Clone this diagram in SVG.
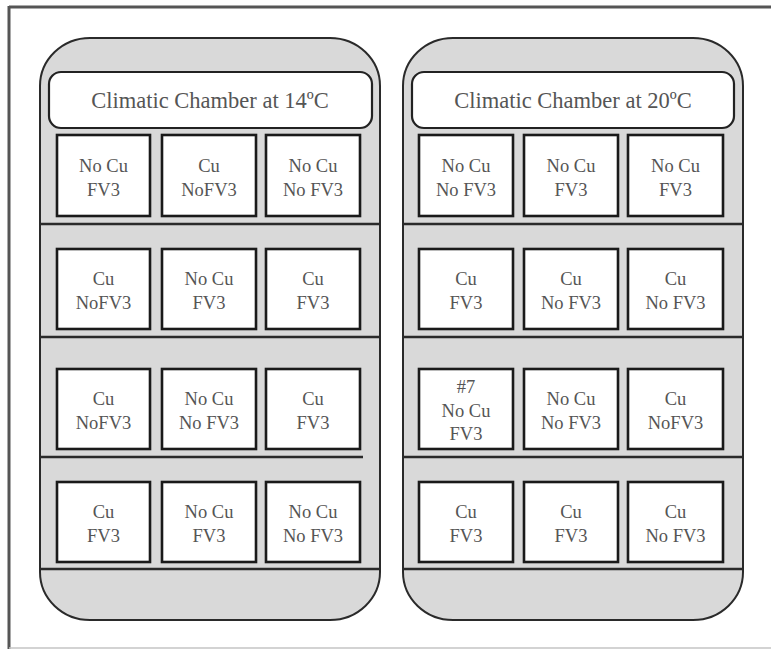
<svg xmlns="http://www.w3.org/2000/svg" width="771" height="649" viewBox="0 0 771 649">
<style>
.chamber{fill:#d9d9d9;stroke:#2a2a2a;stroke-width:2}
.shelf{stroke:#2a2a2a;stroke-width:2.5;fill:none}
.hdr{fill:#fff;stroke:#222;stroke-width:2.2}
.box{fill:#fff;stroke:#1a1a1a;stroke-width:2.6}
.t{font-family:'Liberation Serif','DejaVu Serif','Times New Roman',serif;fill:#555;text-anchor:middle}
.tt{font-size:22.5px}
.bt{font-size:18.5px}
</style>
<rect x="0" y="0" width="771" height="649" fill="#fff"/>
<g id="frame">
<line x1="9" y1="7" x2="771" y2="7" stroke="#555" stroke-width="3"/>
<line x1="9" y1="6" x2="9" y2="649" stroke="#555" stroke-width="3"/>
<line x1="9" y1="648" x2="771" y2="648" stroke="#c4c4c4" stroke-width="1.5"/>
</g>
<g id="chamber14">
<rect class="chamber" x="40" y="38" width="340" height="582" rx="50" ry="48"/>
<line class="shelf" x1="40" y1="224" x2="380" y2="224"/>
<line class="shelf" x1="40" y1="337" x2="380" y2="337"/>
<line class="shelf" x1="40" y1="457" x2="363" y2="457"/>
<line class="shelf" x1="40" y1="569" x2="380" y2="569"/>
<rect class="hdr" x="49" y="72" width="323" height="56" rx="12"/>
<text class="t tt" x="210" y="108">Climatic Chamber at 14ºC</text>
</g>
<g id="chamber20">
<rect class="chamber" x="403" y="38" width="340" height="582" rx="50" ry="48"/>
<line class="shelf" x1="403" y1="224" x2="743" y2="224"/>
<line class="shelf" x1="403" y1="337" x2="743" y2="337"/>
<line class="shelf" x1="403" y1="457" x2="743" y2="457"/>
<line class="shelf" x1="403" y1="569" x2="743" y2="569"/>
<rect class="hdr" x="412" y="72" width="322" height="56" rx="12"/>
<text class="t tt" x="573" y="108">Climatic Chamber at 20ºC</text>
</g>
<g id="L11"><rect class="box" x="57" y="135" width="93" height="81"/><text class="t bt" x="103.5" y="172">No Cu</text><text class="t bt" x="103.5" y="196">FV3</text></g>
<g id="L12"><rect class="box" x="162" y="135" width="94" height="81"/><text class="t bt" x="209" y="172">Cu</text><text class="t bt" x="209" y="196">NoFV3</text></g>
<g id="L13"><rect class="box" x="266" y="135" width="94" height="81"/><text class="t bt" x="313" y="172">No Cu</text><text class="t bt" x="313" y="196">No FV3</text></g>
<g id="L21"><rect class="box" x="57" y="249" width="93" height="80"/><text class="t bt" x="103.5" y="285">Cu</text><text class="t bt" x="103.5" y="309">NoFV3</text></g>
<g id="L22"><rect class="box" x="162" y="249" width="94" height="80"/><text class="t bt" x="209" y="285">No Cu</text><text class="t bt" x="209" y="309">FV3</text></g>
<g id="L23"><rect class="box" x="266" y="249" width="94" height="80"/><text class="t bt" x="313" y="285">Cu</text><text class="t bt" x="313" y="309">FV3</text></g>
<g id="L31"><rect class="box" x="57" y="369" width="93" height="80"/><text class="t bt" x="103.5" y="405">Cu</text><text class="t bt" x="103.5" y="429">NoFV3</text></g>
<g id="L32"><rect class="box" x="162" y="369" width="94" height="80"/><text class="t bt" x="209" y="405">No Cu</text><text class="t bt" x="209" y="429">No FV3</text></g>
<g id="L33"><rect class="box" x="266" y="369" width="94" height="80"/><text class="t bt" x="313" y="405">Cu</text><text class="t bt" x="313" y="429">FV3</text></g>
<g id="L41"><rect class="box" x="57" y="482" width="93" height="80"/><text class="t bt" x="103.5" y="518">Cu</text><text class="t bt" x="103.5" y="542">FV3</text></g>
<g id="L42"><rect class="box" x="162" y="482" width="94" height="80"/><text class="t bt" x="209" y="518">No Cu</text><text class="t bt" x="209" y="542">FV3</text></g>
<g id="L43"><rect class="box" x="266" y="482" width="94" height="80"/><text class="t bt" x="313" y="518">No Cu</text><text class="t bt" x="313" y="542">No FV3</text></g>
<g id="R11"><rect class="box" x="419" y="135" width="94" height="81"/><text class="t bt" x="466" y="172">No Cu</text><text class="t bt" x="466" y="196">No FV3</text></g>
<g id="R12"><rect class="box" x="524" y="135" width="94" height="81"/><text class="t bt" x="571" y="172">No Cu</text><text class="t bt" x="571" y="196">FV3</text></g>
<g id="R13"><rect class="box" x="628" y="135" width="95" height="81"/><text class="t bt" x="675.5" y="172">No Cu</text><text class="t bt" x="675.5" y="196">FV3</text></g>
<g id="R21"><rect class="box" x="419" y="249" width="94" height="80"/><text class="t bt" x="466" y="285">Cu</text><text class="t bt" x="466" y="309">FV3</text></g>
<g id="R22"><rect class="box" x="524" y="249" width="94" height="80"/><text class="t bt" x="571" y="285">Cu</text><text class="t bt" x="571" y="309">No FV3</text></g>
<g id="R23"><rect class="box" x="628" y="249" width="95" height="80"/><text class="t bt" x="675.5" y="285">Cu</text><text class="t bt" x="675.5" y="309">No FV3</text></g>
<g id="R31"><rect class="box" x="419" y="369" width="94" height="80"/><text class="t bt" x="466" y="393">#7</text><text class="t bt" x="466" y="417">No Cu</text><text class="t bt" x="466" y="440">FV3</text></g>
<g id="R32"><rect class="box" x="524" y="369" width="94" height="80"/><text class="t bt" x="571" y="405">No Cu</text><text class="t bt" x="571" y="429">No FV3</text></g>
<g id="R33"><rect class="box" x="628" y="369" width="95" height="80"/><text class="t bt" x="675.5" y="405">Cu</text><text class="t bt" x="675.5" y="429">NoFV3</text></g>
<g id="R41"><rect class="box" x="419" y="482" width="94" height="80"/><text class="t bt" x="466" y="518">Cu</text><text class="t bt" x="466" y="542">FV3</text></g>
<g id="R42"><rect class="box" x="524" y="482" width="94" height="80"/><text class="t bt" x="571" y="518">Cu</text><text class="t bt" x="571" y="542">FV3</text></g>
<g id="R43"><rect class="box" x="628" y="482" width="95" height="80"/><text class="t bt" x="675.5" y="518">Cu</text><text class="t bt" x="675.5" y="542">No FV3</text></g>
<g id="connectors"></g>
</svg>
